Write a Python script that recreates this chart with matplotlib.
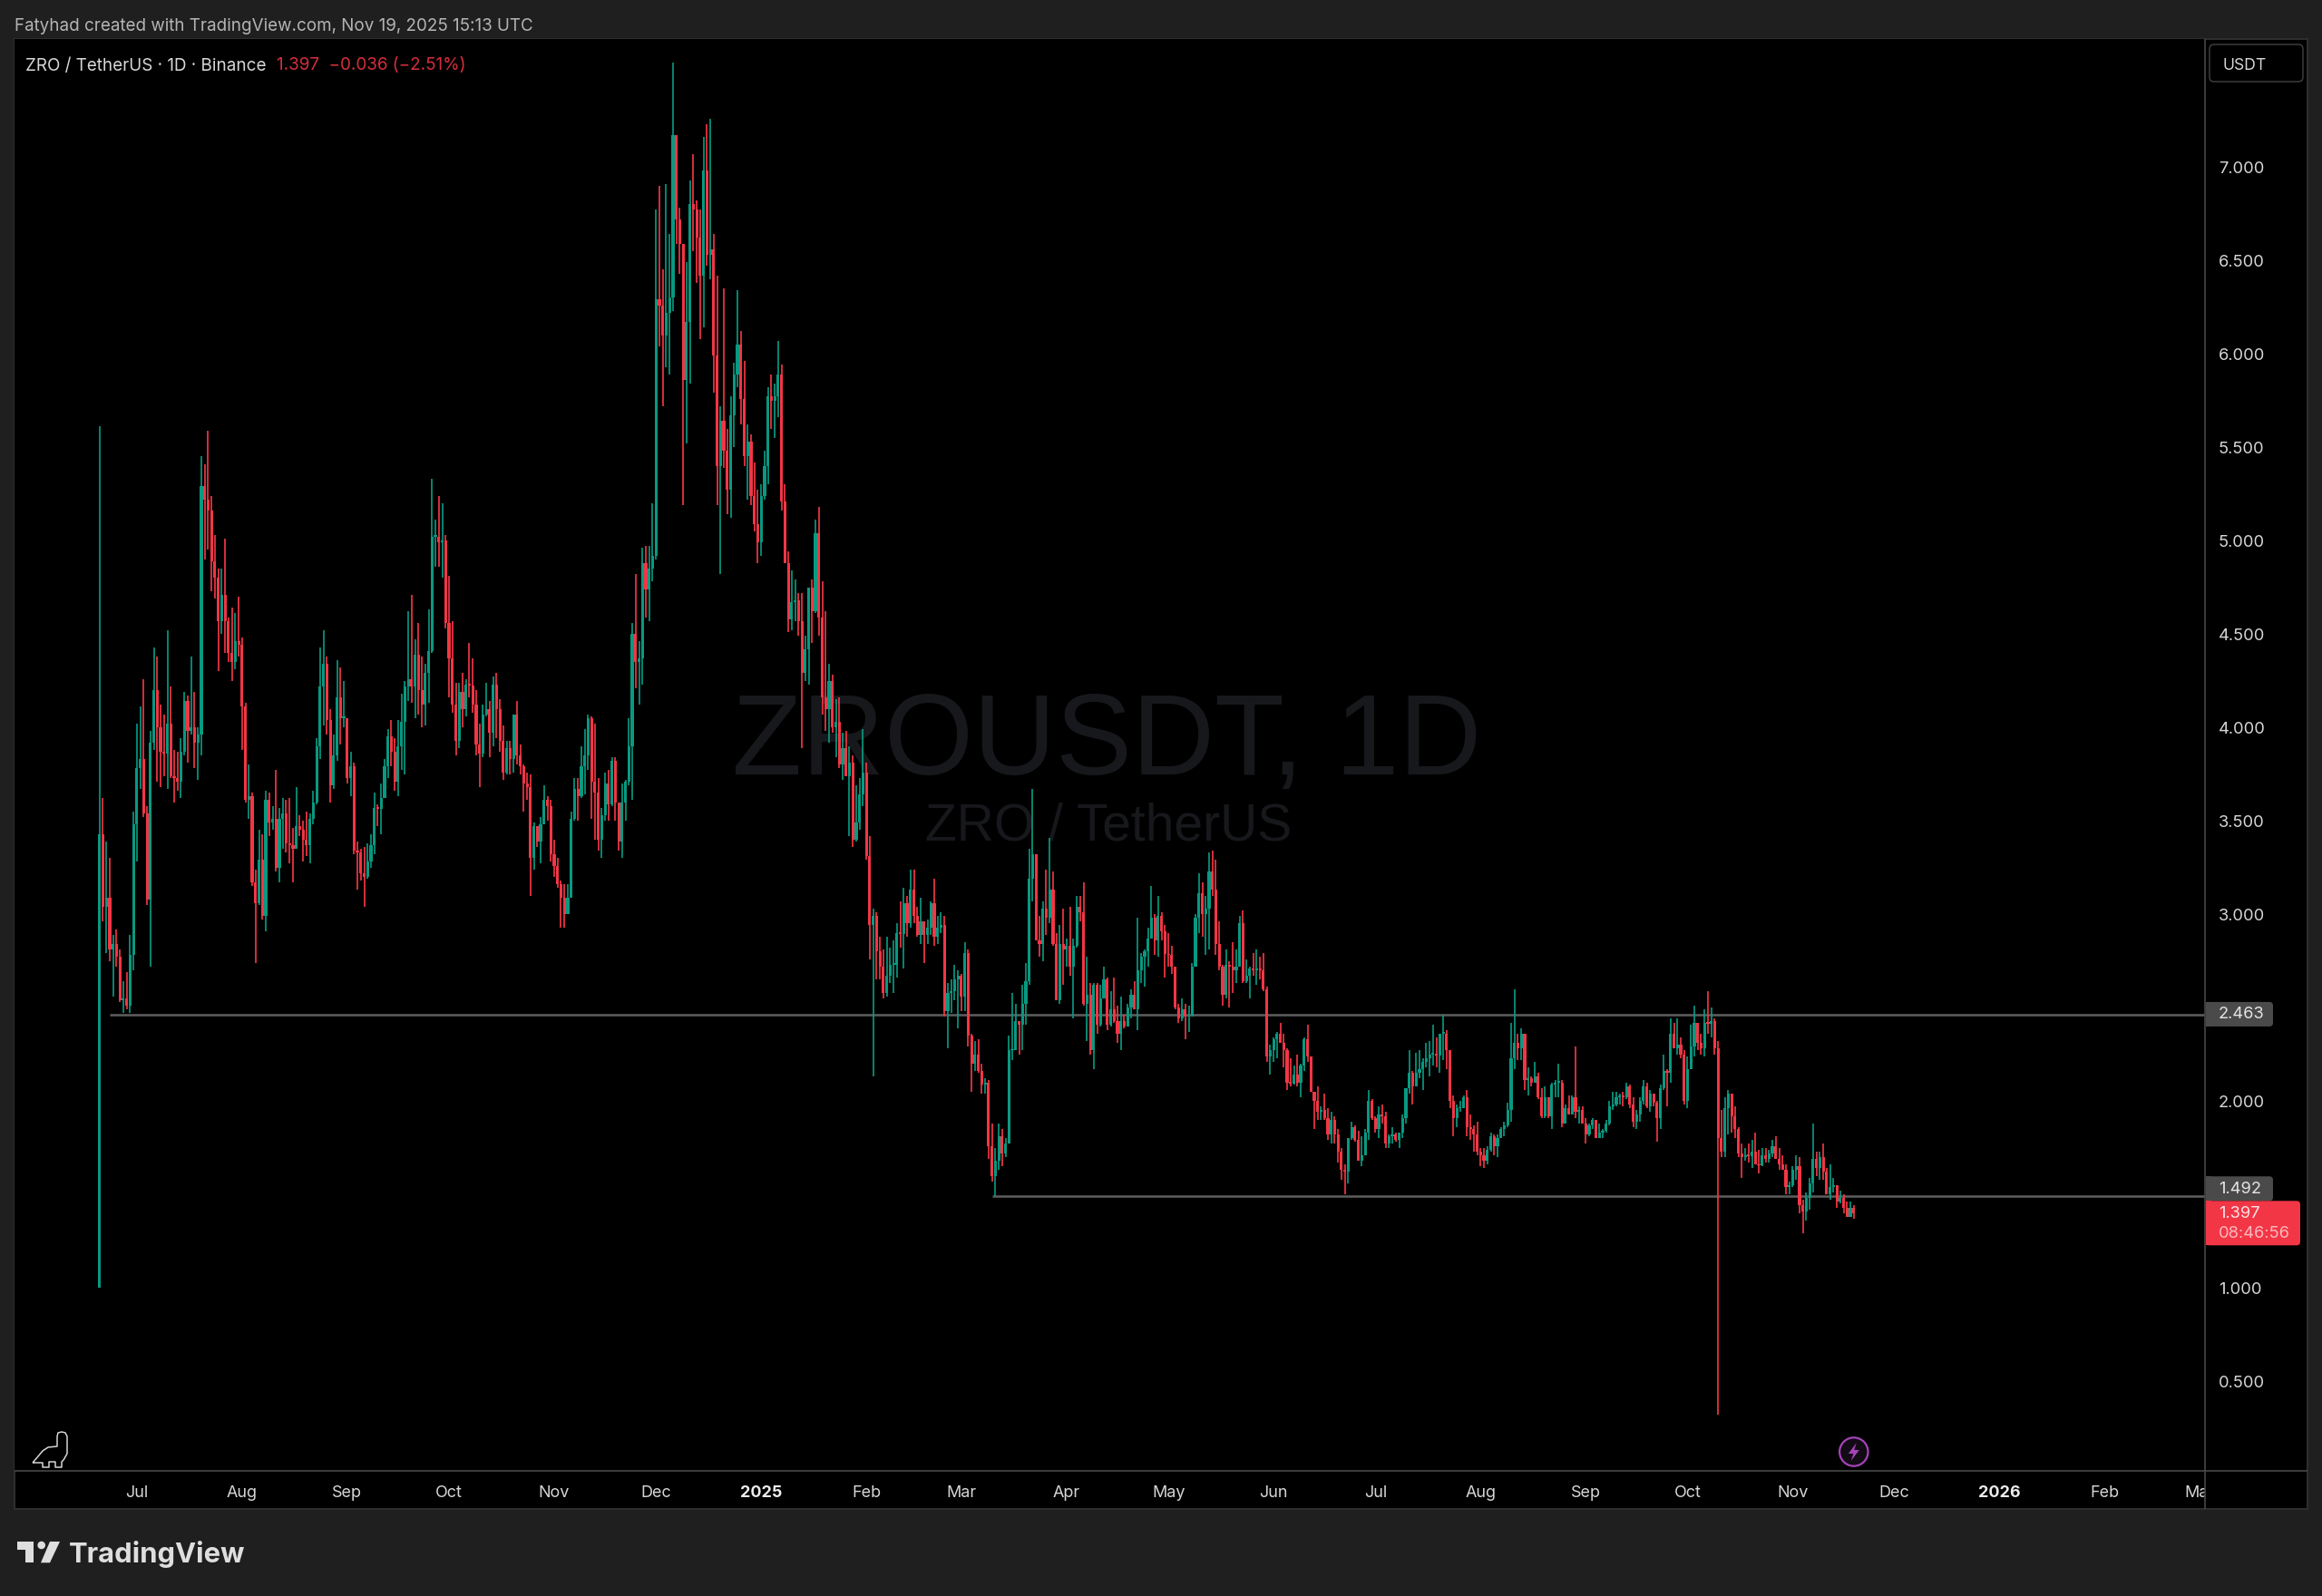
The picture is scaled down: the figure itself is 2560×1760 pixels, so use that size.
import datetime as dt
import matplotlib
matplotlib.use("Agg")
import matplotlib.pyplot as plt
import matplotlib.dates as mdates
from matplotlib.patches import FancyBboxPatch, Rectangle, Polygon, Circle, PathPatch
from matplotlib.path import Path
from matplotlib.transforms import Bbox

highs = [
5.61,3.62,3.39,3.30,2.89,2.92,2.81,2.64,2.69,2.89,
3.55,4.02,4.11,4.26,3.58,3.98,4.43,4.38,4.12,4.07,
4.52,4.22,3.88,3.87,3.94,4.19,4.17,4.38,4.19,4.00,
5.45,5.41,5.59,5.24,5.03,4.85,4.85,5.01,4.59,4.64,
4.61,4.70,4.48,4.13,3.80,3.65,3.24,3.45,3.43,3.66,
3.65,3.58,3.77,3.57,3.62,3.61,3.62,3.46,3.68,3.53,
3.50,3.55,3.54,3.66,3.94,4.43,4.52,4.38,4.10,3.96,
4.36,4.32,4.25,4.05,3.87,3.81,3.39,3.35,3.36,3.38,
3.43,3.65,3.59,3.70,3.83,3.99,4.04,3.94,4.04,4.18,
4.25,4.62,4.71,4.47,4.56,4.38,4.34,4.63,5.33,5.11,
5.24,5.20,5.03,4.81,4.57,4.24,4.24,4.29,4.26,4.45,
4.37,4.20,4.02,4.12,4.24,4.14,4.27,4.29,4.15,4.01,
3.93,3.93,4.07,4.14,3.91,3.80,3.76,3.75,3.49,3.47,
3.52,3.69,3.63,3.61,3.40,3.30,3.18,3.16,3.16,3.55,
3.73,3.73,3.90,3.99,4.07,4.06,4.02,3.73,3.57,3.76,
3.77,3.84,3.84,3.60,3.70,3.72,4.05,4.56,4.82,4.46,
4.96,4.97,4.97,5.20,6.77,6.90,6.45,6.91,6.64,7.56,
7.17,6.78,6.59,6.49,6.93,7.07,6.82,6.77,7.16,7.23,
7.26,6.64,6.42,5.72,6.35,5.60,5.77,5.95,6.34,6.12,
5.96,5.62,5.57,5.42,5.27,5.30,5.48,5.82,5.89,5.84,
6.07,5.94,5.30,4.94,4.84,4.79,4.72,4.72,4.49,4.75,
4.79,5.11,5.18,4.78,4.62,4.34,4.28,4.15,4.16,3.97,
3.98,3.90,3.85,3.69,3.73,3.99,3.81,3.42,3.03,3.01,
2.88,2.81,2.88,2.82,2.86,2.95,3.07,3.14,3.10,3.24,
3.24,3.04,3.09,2.96,2.97,3.07,3.19,2.99,3.01,2.99,
2.63,2.65,2.73,2.70,2.68,2.85,2.81,2.36,2.32,2.33,
2.20,2.12,2.11,1.88,1.75,1.88,1.85,1.80,2.35,2.58,
2.52,2.43,2.62,2.74,3.35,3.67,3.32,2.99,3.07,3.24,
3.41,3.23,2.90,2.94,3.03,2.87,3.04,2.87,3.10,3.10,
3.17,2.77,2.63,2.63,2.63,2.62,2.72,2.66,2.59,2.66,
2.51,2.56,2.46,2.52,2.60,2.64,2.98,2.79,2.81,2.93,
3.15,3.00,3.10,3.01,2.94,2.90,2.83,2.72,2.52,2.55,
2.52,2.51,2.74,3.00,3.22,3.17,3.10,3.33,3.34,3.29,
2.96,2.73,2.81,2.75,2.85,2.81,2.99,3.02,2.76,2.72,
2.79,2.81,2.77,2.79,2.61,2.30,2.34,2.37,2.42,2.36,
2.28,2.23,2.19,2.25,2.20,2.34,2.41,2.24,2.05,2.08,
1.97,2.04,1.96,1.94,1.92,1.85,1.75,1.66,1.80,1.89,
1.87,1.84,1.81,1.85,2.06,2.01,1.92,1.97,1.98,1.94,
1.82,1.86,1.83,1.83,1.93,2.07,2.27,2.16,2.26,2.27,
2.23,2.31,2.32,2.41,2.34,2.36,2.46,2.38,2.27,2.03,
1.98,2.00,2.03,2.06,1.93,1.87,1.89,1.75,1.75,1.76,
1.83,1.82,1.82,1.86,1.89,1.99,2.42,2.60,2.36,2.39,
2.36,2.18,2.13,2.21,2.15,2.07,2.08,2.02,2.10,2.11,
2.20,2.11,1.98,2.03,2.03,2.29,1.97,1.97,1.91,1.88,
1.91,1.90,1.88,1.85,1.90,2.00,2.05,2.05,2.04,2.05,
2.10,2.09,2.02,1.95,2.02,2.11,2.10,2.06,2.04,2.00,
2.09,2.25,2.17,2.44,2.42,2.44,2.34,2.27,2.24,2.41,
2.51,2.42,2.36,2.49,2.59,2.50,2.44,2.32,1.95,2.02,
2.06,2.04,1.97,1.86,1.77,1.75,1.77,1.79,1.83,1.74,
1.75,1.75,1.74,1.79,1.81,1.75,1.71,1.66,1.57,1.65,
1.71,1.70,1.47,1.51,1.59,1.88,1.73,1.73,1.77,1.64,
1.66,1.59,1.55,1.52,1.50,1.46,1.46,1.44]

lows = [
1.00,2.96,2.79,2.75,2.56,2.72,2.53,2.47,2.49,2.47,
2.70,3.28,3.67,3.52,3.05,2.72,3.88,3.71,3.68,3.74,
3.67,3.73,3.60,3.66,3.62,3.85,3.81,3.96,3.78,3.72,
3.85,4.90,4.95,4.73,4.69,4.30,4.50,4.40,4.35,4.25,
4.31,4.38,3.88,3.60,3.51,3.15,2.74,3.05,2.97,2.91,
3.42,3.45,3.23,3.17,3.35,3.33,3.27,3.17,3.35,3.42,
3.28,3.31,3.27,3.48,3.59,3.83,4.01,3.96,3.60,3.67,
3.82,3.91,4.00,3.70,3.63,3.32,3.13,3.18,3.04,3.19,
3.25,3.32,3.47,3.43,3.62,3.73,3.79,3.66,3.63,3.77,
3.75,4.14,4.13,4.05,4.07,4.00,4.01,4.13,4.40,4.86,
4.86,4.80,4.53,4.16,4.08,3.85,3.89,4.00,4.06,4.16,
4.08,3.85,3.68,3.84,4.06,3.84,3.90,3.94,3.87,3.72,
3.75,3.75,3.76,3.80,3.75,3.55,3.61,3.10,3.24,3.36,
3.27,3.48,3.50,3.28,3.20,3.14,2.93,2.93,3.00,3.09,
3.50,3.50,3.62,3.64,3.77,3.51,3.40,3.34,3.30,3.50,
3.50,3.58,3.50,3.34,3.30,3.50,3.69,3.61,4.21,4.12,
4.23,4.59,4.57,4.78,4.90,6.04,5.72,5.93,5.89,6.23,
6.59,6.43,5.19,5.52,5.84,6.55,6.38,6.08,6.14,6.47,
6.40,5.79,5.19,4.82,5.39,5.14,5.12,5.50,5.82,5.62,
5.40,5.22,5.19,5.05,4.88,4.92,5.22,5.30,5.60,5.55,
5.66,5.16,4.88,4.51,4.52,4.57,4.49,3.89,4.25,4.23,
4.45,4.61,4.49,4.07,3.98,3.92,3.97,3.84,3.78,3.72,
3.74,3.42,3.36,3.39,3.45,3.58,3.29,2.76,2.13,2.65,
2.65,2.55,2.56,2.63,2.58,2.66,2.82,2.71,2.88,2.93,
2.95,2.88,2.84,2.74,2.84,2.89,2.83,2.84,2.90,2.45,
2.28,2.47,2.54,2.39,2.48,2.48,2.29,2.05,2.16,2.15,
2.04,2.04,1.69,1.57,1.49,1.63,1.65,1.70,1.77,2.22,
2.27,2.25,2.27,2.41,2.62,3.07,2.86,2.77,2.75,2.89,
2.95,2.83,2.54,2.52,2.62,2.72,2.67,2.44,2.82,2.96,
2.51,2.32,2.25,2.17,2.36,2.40,2.55,2.38,2.40,2.42,
2.31,2.27,2.39,2.40,2.44,2.49,2.38,2.63,2.61,2.72,
2.87,2.78,2.77,2.86,2.66,2.72,2.68,2.49,2.42,2.43,
2.33,2.37,2.45,2.72,2.90,2.88,2.78,2.81,3.10,2.78,
2.70,2.51,2.55,2.50,2.58,2.63,2.72,2.63,2.63,2.55,
2.67,2.62,2.65,2.59,2.21,2.14,2.21,2.23,2.31,2.18,
2.06,2.08,2.09,2.08,2.02,2.16,2.21,2.05,1.85,1.90,
1.90,1.90,1.79,1.77,1.77,1.67,1.58,1.50,1.56,1.79,
1.78,1.68,1.65,1.73,1.79,1.90,1.83,1.80,1.88,1.75,
1.75,1.77,1.78,1.75,1.80,1.88,2.04,1.98,2.08,2.12,
2.06,2.18,2.13,2.19,2.18,2.15,2.22,2.17,1.96,1.81,
1.86,1.94,1.96,1.81,1.79,1.73,1.71,1.65,1.64,1.66,
1.73,1.71,1.70,1.80,1.81,1.86,1.89,2.17,2.22,2.22,
2.06,2.03,2.08,2.10,2.01,1.91,1.91,1.91,1.85,2.02,
2.02,1.86,1.88,1.93,1.93,1.91,1.88,1.88,1.77,1.81,
1.85,1.80,1.80,1.80,1.83,1.87,1.95,1.97,1.98,1.97,
2.01,1.96,1.86,1.85,1.89,1.98,1.96,1.94,1.97,1.78,
1.85,2.06,1.97,2.10,2.28,2.25,2.23,1.98,1.96,2.17,
2.24,2.27,2.25,2.24,2.36,2.34,2.25,0.32,1.70,1.70,
1.82,1.83,1.80,1.70,1.59,1.68,1.67,1.64,1.66,1.61,
1.65,1.67,1.67,1.70,1.69,1.63,1.63,1.50,1.50,1.54,
1.58,1.40,1.29,1.36,1.42,1.51,1.60,1.58,1.58,1.50,
1.47,1.51,1.43,1.45,1.40,1.38,1.38,1.37]

closes = [
3.43,3.04,3.09,2.81,2.84,2.77,2.54,2.55,2.51,2.78,
3.48,3.78,3.83,3.54,3.08,3.92,4.20,4.00,3.87,3.86,
4.02,3.74,3.73,3.71,3.87,4.14,3.98,4.00,3.92,3.96,
5.29,5.22,5.16,4.89,4.80,4.57,4.71,4.57,4.40,4.35,
4.46,4.44,4.11,3.61,3.63,3.17,3.06,3.29,2.99,3.61,
3.49,3.51,3.25,3.51,3.54,3.38,3.37,3.35,3.47,3.45,
3.40,3.37,3.51,3.60,3.90,4.22,4.34,4.04,3.69,3.85,
4.16,4.05,4.05,3.73,3.79,3.34,3.33,3.22,3.20,3.28,
3.37,3.57,3.565,3.62,3.79,3.95,3.87,3.71,3.90,4.03,
4.22,4.26,4.22,4.39,4.20,4.12,4.29,4.41,5.02,5.02,
4.99,5.00,4.56,4.37,4.12,3.93,4.19,4.10,4.23,4.225,
4.12,3.91,3.86,4.07,4.10,3.97,4.23,4.10,3.93,3.76,
3.89,3.83,4.07,3.85,3.79,3.70,3.68,3.30,3.47,3.39,
3.48,3.61,3.58,3.32,3.26,3.16,3.09,3.00,3.09,3.51,
3.67,3.63,3.79,3.85,4.05,3.71,3.65,3.40,3.53,3.70,
3.59,3.82,3.60,3.39,3.60,3.71,3.90,4.50,4.35,4.37,
4.88,4.74,4.85,4.92,6.29,6.26,6.10,6.22,6.30,7.17,
6.72,6.59,5.86,6.17,6.80,6.77,6.62,6.42,6.98,6.53,
6.56,5.99,5.40,5.64,5.48,5.27,5.67,5.89,6.05,5.76,
5.45,5.53,5.24,5.09,4.99,5.24,5.40,5.77,5.75,5.77,
5.89,5.21,4.88,4.58,4.67,4.68,4.57,4.29,4.42,4.75,
4.62,5.04,4.59,4.16,4.10,4.25,4.00,4.03,3.80,3.89,
3.74,3.81,3.40,3.49,3.64,3.76,3.31,2.94,2.99,2.80,
2.72,2.58,2.67,2.73,2.73,2.90,2.895,3.06,2.95,3.13,
2.99,2.89,2.96,2.89,2.93,3.06,2.88,2.93,2.94,2.48,
2.58,2.59,2.65,2.67,2.56,2.79,2.35,2.20,2.25,2.16,
2.09,2.10,1.76,1.60,1.68,1.81,1.72,1.77,2.27,2.27,
2.43,2.41,2.52,2.64,3.19,3.32,2.86,2.84,3.03,2.98,
3.13,2.84,2.54,2.84,2.81,2.83,2.72,2.83,3.04,3.01,
2.52,2.57,2.27,2.62,2.41,2.55,2.65,2.41,2.49,2.43,
2.36,2.43,2.40,2.50,2.57,2.49,2.70,2.77,2.80,2.87,
2.98,2.86,2.99,2.91,2.785,2.78,2.72,2.50,2.44,2.49,
2.45,2.45,2.72,2.98,3.11,3.00,3.03,3.23,3.13,2.84,
2.72,2.57,2.73,2.72,2.70,2.72,2.95,2.64,2.67,2.71,
2.70,2.71,2.70,2.60,2.24,2.27,2.33,2.36,2.31,2.27,
2.10,2.095,2.14,2.10,2.19,2.33,2.24,2.05,2.00,1.94,
1.95,1.91,1.82,1.90,1.82,1.73,1.63,1.62,1.80,1.86,
1.79,1.68,1.71,1.83,2.00,1.91,1.85,1.93,1.92,1.77,
1.81,1.82,1.79,1.83,1.91,2.07,2.15,2.08,2.15,2.17,
2.21,2.23,2.25,2.25,2.245,2.36,2.36,2.27,2.00,1.91,
1.96,1.96,2.02,1.86,1.85,1.82,1.73,1.71,1.68,1.74,
1.81,1.76,1.80,1.85,1.87,1.95,2.23,2.31,2.28,2.36,
2.11,2.12,2.10,2.13,2.02,1.92,2.02,1.92,2.09,2.10,
2.10,1.88,1.96,1.93,2.02,1.94,1.95,1.88,1.82,1.87,
1.90,1.80,1.83,1.84,1.88,1.97,1.98,2.02,2.03,2.02,
2.08,1.98,1.89,1.93,2.00,2.08,1.97,2.04,1.99,1.91,
2.07,2.16,2.15,2.36,2.28,2.30,2.25,2.00,2.17,2.29,
2.42,2.31,2.28,2.42,2.415,2.43,2.28,1.80,1.73,1.96,
2.04,1.92,1.85,1.72,1.70,1.71,1.705,1.73,1.66,1.655,
1.71,1.69,1.72,1.76,1.69,1.66,1.63,1.54,1.55,1.63,
1.65,1.44,1.41,1.48,1.56,1.69,1.64,1.70,1.62,1.50,
1.54,1.55,1.46,1.48,1.43,1.38,1.43,1.397]

first_open = 1.00
first_date = dt.date(2024, 6, 20)
opens = [first_open] + closes[:-1]

price_ticks = [0.5, 1.0, 2.0, 2.5, 3.0, 3.5, 4.0, 4.5, 5.0, 5.5, 6.0, 6.5, 7.0]
month_ticks = [dt.date(2024,7,1),dt.date(2024,8,1),dt.date(2024,9,1),dt.date(2024,10,1),dt.date(2024,11,1),
               dt.date(2024,12,1),dt.date(2025,1,1),dt.date(2025,2,1),dt.date(2025,3,1),dt.date(2025,4,1),
               dt.date(2025,5,1),dt.date(2025,6,1),dt.date(2025,7,1),dt.date(2025,8,1),dt.date(2025,9,1),
               dt.date(2025,10,1),dt.date(2025,11,1),dt.date(2025,12,1),dt.date(2026,1,1),dt.date(2026,2,1),
               dt.date(2026,3,1)]
month_labels = ["Jul","Aug","Sep","Oct","Nov","Dec","2025","Feb","Mar","Apr","May","Jun","Jul","Aug","Sep",
                "Oct","Nov","Dec","2026","Feb","Mar"]
levels = [2.463, 1.492]
level_starts = [dt.date(2024,6,23), dt.date(2025,3,10)]
last_price = 1.397
countdown = "08:46:56"

UP, DOWN = "#089981", "#F23645"
FIG_BG, PANEL = "#1f1f1f", "#000000"
W, H = 2560, 1760
L, R, T, B = 16, 2431, 43, 1622     # main pane, pixels
PR, PB = 2544, 1664                 # outer panel edges
YMIN, YMAX = 0.0199, 7.685
FONT = "Inter"

def pt(px):
    return px * 0.72

def py(p):
    return T + (YMAX - p) / (YMAX - YMIN) * (B - T)

fig = plt.figure(figsize=(W/100, H/100), dpi=100, facecolor=FIG_BG)

def full_axes(z):
    a = fig.add_axes([0, 0, 1, 1], zorder=z)
    a.set_xlim(0, W); a.set_ylim(H, 0); a.axis("off")
    a.patch.set_alpha(0)
    return a

bg = full_axes(-1)
bg.add_patch(Rectangle((L, T), PR-L, PB-T, fc=PANEL, ec="#2e2e2e", lw=1.5))

ax = fig.add_axes([L/W, 1-B/H, (R-L)/W, (B-T)/H], zorder=1, facecolor=PANEL)
d0 = mdates.date2num(first_date)
ax.set_xlim(d0-25.05, d0+620.5)
ax.set_ylim(YMIN, YMAX)
for s in ax.spines.values():
    s.set_visible(False)

x = [d0 + i for i in range(len(closes))]
colors = [UP if c >= o else DOWN for o, c in zip(opens, closes)]

# watermark
xc = (808+1633)/2
ax.text((xc-L)/(R-L), 1-(821-T)/(B-T), "ZROUSDT, 1D", transform=ax.transAxes, ha="center", va="center",
        color="#17181b", fontsize=pt(126), family="Liberation Sans", zorder=0)
ax.text(((1020+1425)/2-L)/(R-L), 1-(911-T)/(B-T), "ZRO / TetherUS", transform=ax.transAxes, ha="center", va="center",
        color="#17181b", fontsize=pt(57), family="Liberation Sans", zorder=0)

# levels
for lv, st in zip(levels, level_starts):
    ax.hlines(lv, mdates.date2num(st), d0+620.5, color="#5c5c5c", lw=pt(2.6), zorder=1)

# candles
ax.vlines(x, lows, highs, colors=colors, lw=pt(1.7), zorder=2)
bottoms = [min(o, c) for o, c in zip(opens, closes)]
heights = [max(abs(c-o), 0.008) for o, c in zip(opens, closes)]
ax.bar(x, heights, bottom=bottoms, width=0.84, color=colors, linewidth=0, zorder=3)

# axes ticks
ax.yaxis.tick_right()
ax.set_yticks(price_ticks)
ax.set_yticklabels([f"{p:.3f}" for p in price_ticks], family=FONT, fontsize=pt(18.3), color="#d6d6d6", ha="left")
ax.set_xticks([mdates.date2num(d) for d in month_ticks])
ax.set_xticklabels(month_labels, family=FONT, fontsize=pt(18), color="#d6d6d6")
ax.tick_params(axis="y", length=0, pad=pt(15))
ax.tick_params(axis="x", length=0, pad=pt(15.5))
clip = Bbox.from_extents(L, 0, R, H)
for lab, txt in zip(ax.get_xticklabels(), month_labels):
    lab.set_clip_box(clip)
    lab.set_clip_on(True)
    if txt.isdigit():
        lab.set_fontweight("bold")
        lab.set_color("#ececec")

# overlay chrome
ov = full_axes(5)
ov.plot([R, R], [T, PB], color="#4a4a4a", lw=pt(1.6), solid_capstyle="butt")
ov.plot([L, PR], [B, B], color="#4a4a4a", lw=pt(1.6), solid_capstyle="butt")

def badge(y0, y1, x1, color):
    ov.add_patch(FancyBboxPatch((R+5, y0+4), x1-R-9, y1-y0-8, boxstyle="round,pad=4,rounding_size=4",
                                fc=color, ec="none", mutation_aspect=1, zorder=3))
    ov.add_patch(Rectangle((R+1, y0), 6, y1-y0, fc=color, ec="none", zorder=3))

for lv in levels:
    yc = py(lv)
    offs = -0.3 if lv > 2 else -8
    badge(yc-13.5+offs, yc+13.5+offs, 2506, "#4a4a4a")
    ov.text(2446, yc+offs+0.5, f"{lv:.3f}", family=FONT, fontsize=pt(18.3), color="#e4e4e4", ha="left", va="center", zorder=4)
yp = py(last_price)
badge(yp-14, yp+35, 2536, DOWN)
ov.text(2446, yp+0.5, f"{last_price:.3f}", family=FONT, fontsize=pt(18.3), color="#fde3e5", ha="left", va="center", zorder=4)
ov.text(2446, yp+22.5, countdown, family=FONT, fontsize=pt(18.3), color="#fbb9bf", ha="left", va="center", zorder=4)

# USDT button
ov.add_patch(FancyBboxPatch((2440, 53), 95, 33, boxstyle="round,pad=4,rounding_size=5", fc=PANEL, ec="#3d3d3d", lw=pt(1.5), zorder=2))
ov.text(2451, 72.5, "USDT", family=FONT, fontsize=pt(17.5), color="#d6d6d6", ha="left", va="center", zorder=4)

# titles
ov.text(16.5, 29.5, "Fatyhad created with TradingView.com, Nov 19, 2025 15:13 UTC", family=FONT, fontsize=pt(18.8),
        color="#b4b4b4", ha="left", va="center")
ov.text(28, 72.5, "ZRO / TetherUS · 1D · Binance", family=FONT, fontsize=pt(18.9), color="#d6d6d6", ha="left", va="center")
ov.text(305, 72.5, "1.397  −0.036 (−2.51%)", family=FONT, fontsize=pt(18.9), color="#d42d3b", ha="left", va="center")

# TradingView logo
logo = "#dedede"
ov.add_patch(Polygon([(19,1700),(37.3,1700),(37.3,1723.3),(28.3,1723.3),(28.3,1709),(19,1709)], fc=logo, ec="none"))
ov.add_patch(Circle((45.7,1704), 4.3, fc=logo, ec="none"))
ov.add_patch(Polygon([(55,1700),(66,1700),(55,1723.3),(45,1723.3)], fc=logo, ec="none"))
ov.text(76, 1714, "TradingView", family=FONT, fontweight="bold", fontsize=pt(31), color=logo, ha="left", va="center")

# dino icon
dino = [(36,1613),(42,1606),(47,1600),(53,1596),(63,1595),(63,1584),(64,1580),(68,1579),(72,1580),(74,1584),
        (74,1603),(70,1610),(68,1612),(68,1618),(61,1618),(61,1612),(54,1612),(54,1618),(47,1618),(47,1613),(36,1613)]
ov.add_patch(PathPatch(Path(dino), fc="none", ec="#d8d8d8", lw=pt(1.5), joinstyle="round"))

# lightning marker, above the last candle
mx = 109.7 + 3.741*(len(closes)-1)
ov.add_patch(Circle((mx, 1601), 15.7, fc="#120a14", ec="#a543b8", lw=pt(2.2)))
ov.add_patch(Polygon([(mx+3,1591),(mx-6,1603),(mx-0.5,1603),(mx-3,1611),(mx+6,1599),(mx+0.5,1599)], fc="#a543b8", ec="none"))

fig.savefig("out.png", dpi=100, facecolor=FIG_BG)
